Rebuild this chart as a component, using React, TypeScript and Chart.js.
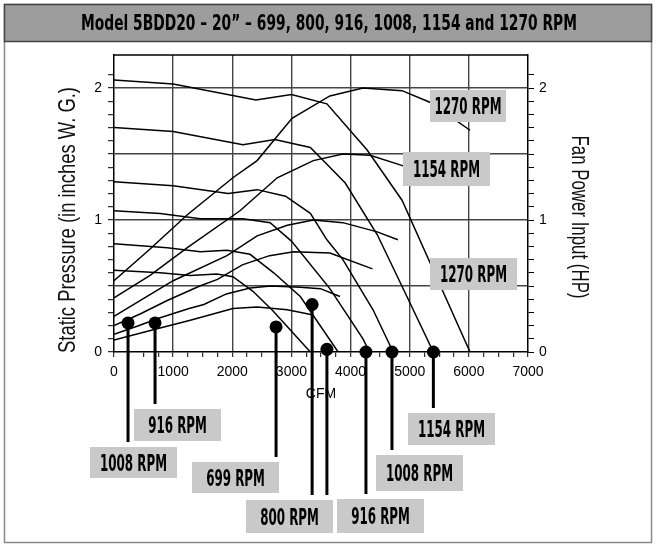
import React, { useEffect, useRef } from "react";
import { Chart, registerables } from "chart.js";

Chart.register(...registerables);

const TITLE = "Model 5BDD20 \u2013 20\u201d \u2013 699, 800, 916, 1008, 1154 and 1270 RPM";
const X_TITLE = "CFM";
const Y_TITLE = "Static Pressure (in inches W. G.)";
const Y2_TITLE = "Fan Power Input (HP)";

// Static pressure curves (CFM, inches W.G.)
const SP_1270_CFM = [0, 1000, 2400, 3000, 3600, 4280, 4870, 5350, 6020];
const SP_1270 = [2.06, 2.03, 1.91, 1.95, 1.88, 1.53, 1.15, 0.67, 0];
const SP_1154_CFM = [0, 1000, 2180, 2720, 3320, 3650, 3910, 4450, 4900, 5400];
const SP_1154 = [1.7, 1.67, 1.57, 1.61, 1.55, 1.4, 1.28, 0.89, 0.47, 0];
const SP_1008_CFM = [0, 1000, 1930, 2420, 2900, 3320, 3600, 3870, 4380, 4720];
const SP_1008 = [1.29, 1.26, 1.2, 1.23, 1.18, 1.05, 0.85, 0.7, 0.32, 0];
const SP_916_CFM = [0, 780, 1460, 2180, 2640, 3000, 3650, 4210, 4320];
const SP_916 = [1.07, 1.05, 1.01, 1.01, 0.98, 0.84, 0.48, 0.1, 0];
const SP_800_CFM = [0, 900, 1460, 1910, 2300, 2700, 3150, 3790];
const SP_800 = [0.82, 0.79, 0.76, 0.77, 0.74, 0.6, 0.42, 0];
const SP_699_CFM = [0, 780, 1290, 1740, 2010, 2350, 2690, 3320];
const SP_699 = [0.62, 0.6, 0.58, 0.59, 0.57, 0.46, 0.31, 0];

// Fan power curves (CFM, HP)
const PW_1270_CFM = [0, 610, 1240, 2010, 2420, 3010, 3650, 4210, 4870, 5350, 6020];
const PW_1270 = [0.54, 0.78, 1.04, 1.32, 1.45, 1.77, 1.94, 2.0, 1.98, 1.89, 1.68];
const PW_1154_CFM = [0, 610, 1240, 2130, 2760, 3370, 3870, 4330, 4890];
const PW_1154 = [0.41, 0.58, 0.79, 1.07, 1.32, 1.45, 1.5, 1.49, 1.41];
const PW_1008_CFM = [0, 1000, 1910, 2420, 2930, 3370, 3870, 4450, 4800];
const PW_1008 = [0.27, 0.54, 0.73, 0.88, 0.96, 1.0, 0.98, 0.91, 0.85];
const PW_916_CFM = [0, 450, 900, 1450, 1750, 2170, 2630, 3040, 3650, 4370];
const PW_916 = [0.2, 0.29, 0.39, 0.5, 0.55, 0.66, 0.73, 0.76, 0.75, 0.63];
const PW_800_CFM = [0, 390, 780, 1270, 1520, 1900, 2300, 2650, 3150, 3490, 3820];
const PW_800 = [0.135, 0.195, 0.26, 0.33, 0.36, 0.44, 0.485, 0.5, 0.49, 0.48, 0.42];
const PW_699_CFM = [0, 680, 1290, 2010, 2420, 2930, 3370];
const PW_699 = [0.09, 0.17, 0.24, 0.33, 0.34, 0.32, 0.28];

// Callout markers
const DOT_CFM = [237, 694, 2740, 3350, 3600, 4260, 4700, 5400];
const DOT_VAL = [0.22, 0.22, 0.19, 0.36, 0.02, 0, 0, 0];

const CALLOUT_TEXT = ["1008 RPM", "916 RPM", "699 RPM", "800 RPM", "916 RPM", "1008 RPM", "1154 RPM"];
const CALLOUT_DOTS = [[0], [1], [2], [3, 4], [5], [6], [7]];
const INPLOT_TEXT = ["1270 RPM", "1154 RPM", "1270 RPM"];

// layout of label boxes (px: left, top, width, height)
const CALLOUT_BOX = [
  [90, 447, 87, 31],
  [134, 409, 87, 32],
  [192, 462, 87, 31],
  [246, 500, 87, 33],
  [337, 499, 87, 34],
  [376, 455, 87, 36],
  [408, 413, 87, 32],
];
const INPLOT_BOX = [
  [430, 90, 76, 32],
  [403, 152, 87, 34],
  [430, 258, 87, 32],
];

const W = 656;
const H = 545;

function xy(xs: number[], ys: number[]) {
  return xs.map((x, i) => ({ x, y: ys[i] }));
}

function drawScaled(
  ctx: CanvasRenderingContext2D,
  text: string,
  cx: number,
  cy: number,
  font: string,
  sx: number,
  rot: number,
  color: string,
  baselineOffset: number
) {
  ctx.save();
  ctx.translate(cx, cy);
  ctx.rotate(rot);
  ctx.scale(sx, 1);
  ctx.font = font;
  ctx.fillStyle = color;
  ctx.textAlign = "center";
  ctx.textBaseline = "alphabetic";
  ctx.fillText(text, 0, baselineOffset);
  ctx.restore();
}

function fitScale(ctx: CanvasRenderingContext2D, text: string, font: string, target: number) {
  ctx.save();
  ctx.font = font;
  const w = ctx.measureText(text).width;
  ctx.restore();
  return w > 0 ? target / w : 1;
}

const LABEL_FONT = 'bold 23px "DejaVu Sans", sans-serif';
const TITLE_FONT = 'bold 22px "DejaVu Sans", sans-serif';
const AXIS_FONT = '24px "Liberation Sans", Arial, sans-serif';

const decorPlugin = {
  id: "decor",
  beforeDraw(chart: any) {
    const ctx: CanvasRenderingContext2D = chart.ctx;
    ctx.save();
    ctx.fillStyle = "#fff";
    ctx.fillRect(0, 0, chart.width, chart.height);
    // outer frame
    ctx.strokeStyle = "#888";
    ctx.lineWidth = 1.5;
    ctx.strokeRect(4.5, 4.5, 647, 538);
    // title bar
    ctx.fillStyle = "#9d9d9d";
    ctx.fillRect(4.5, 4.5, 647, 37);
    ctx.strokeStyle = "#444";
    ctx.strokeRect(4.5, 4.5, 647, 37);
    const ts = fitScale(ctx, TITLE, TITLE_FONT, 496);
    drawScaled(ctx, TITLE, 329, 22, TITLE_FONT, ts, 0, "#000", 8);
    ctx.restore();
  },
  afterDatasetsDraw(chart: any) {
    const ctx: CanvasRenderingContext2D = chart.ctx;
    const xs = chart.scales.x;
    const ys = chart.scales.y;
    const area = chart.chartArea;
    ctx.save();
    // top frame line
    ctx.strokeStyle = "#000";
    ctx.lineWidth = 1.5;
    ctx.beginPath();
    ctx.moveTo(area.left, area.top);
    ctx.lineTo(area.right, area.top);
    ctx.stroke();

    // axis titles
    const ls = fitScale(ctx, Y_TITLE, AXIS_FONT, 266);
    drawScaled(ctx, Y_TITLE, 67, 220, AXIS_FONT, ls, -Math.PI / 2, "#111", 8);
    const rs = fitScale(ctx, Y2_TITLE, AXIS_FONT, 163);
    drawScaled(ctx, Y2_TITLE, 580, 217, AXIS_FONT, rs, Math.PI / 2, "#111", 8);
    ctx.font = '14px "Liberation Sans", Arial, sans-serif';
    ctx.fillStyle = "#000";
    ctx.textAlign = "center";
    ctx.textBaseline = "middle";
    ctx.fillText(X_TITLE, 321, 394);

    const lscale = fitScale(ctx, "1008 RPM", LABEL_FONT, 67);
    const drawBox = (b: number[], text: string) => {
      ctx.fillStyle = "#c9c9c9";
      ctx.fillRect(b[0], b[1], b[2], b[3]);
      drawScaled(ctx, text, b[0] + b[2] / 2, b[1] + b[3] / 2, LABEL_FONT, lscale, 0, "#000", 8.3);
    };

    // callout lines and boxes
    CALLOUT_TEXT.forEach((text, i) => {
      const box = CALLOUT_BOX[i];
      CALLOUT_DOTS[i].forEach((d) => {
        const px = xs.getPixelForValue(DOT_CFM[d]);
        const py = ys.getPixelForValue(DOT_VAL[d]);
        ctx.strokeStyle = "#000";
        ctx.lineWidth = 3;
        ctx.beginPath();
        ctx.moveTo(px, py);
        ctx.lineTo(px, box[1] - 5);
        ctx.stroke();
      });
      drawBox(box, text);
    });
    INPLOT_TEXT.forEach((text, i) => drawBox(INPLOT_BOX[i], text));
    ctx.restore();
  },
};

function isMult(v: number, step: number) {
  const k = v / step;
  return Math.abs(k - Math.round(k)) < 1e-6;
}

export default function App() {
  const ref = useRef<HTMLCanvasElement>(null);

  useEffect(() => {
    const canvas = ref.current;
    if (!canvas) return;

    const curve = (xs: number[], ys: number[], axis: string) => ({
      data: xy(xs, ys),
      showLine: true,
      borderColor: "#000",
      borderWidth: 1.5,
      pointRadius: 0,
      tension: 0,
      yAxisID: axis,
    });

    const tickFont = { family: '"Liberation Sans", Arial, sans-serif', size: 14 };

    const yTicks = {
      stepSize: 0.1,
      autoSkip: false,
      color: "#000",
      font: tickFont,
      callback: (v: any) => (isMult(Number(v), 1) ? String(Math.round(Number(v))) : ""),
    };
    const filterTicks = (s: any) => {
      s.ticks = s.ticks.filter((t: any) => isMult(t.value, 0.1));
    };

    const chart = new Chart(canvas, {
      type: "scatter",
      data: {
        datasets: [
          {
            data: xy(DOT_CFM, DOT_VAL),
            showLine: false,
            pointRadius: 6.5,
            pointBackgroundColor: "#000",
            pointBorderWidth: 0,
            clip: false,
            yAxisID: "y",
          } as any,
          curve(SP_1270_CFM, SP_1270, "y"),
          curve(SP_1154_CFM, SP_1154, "y"),
          curve(SP_1008_CFM, SP_1008, "y"),
          curve(SP_916_CFM, SP_916, "y"),
          curve(SP_800_CFM, SP_800, "y"),
          curve(SP_699_CFM, SP_699, "y"),
          curve(PW_1270_CFM, PW_1270, "y2"),
          curve(PW_1154_CFM, PW_1154, "y2"),
          curve(PW_1008_CFM, PW_1008, "y2"),
          curve(PW_916_CFM, PW_916, "y2"),
          curve(PW_800_CFM, PW_800, "y2"),
          curve(PW_699_CFM, PW_699, "y2"),
        ],
      },
      options: {
        responsive: false,
        animation: false,
        devicePixelRatio: 1,
        layout: { padding: { top: 55, left: 0, right: 0, bottom: 0 } },
        plugins: { legend: { display: false }, tooltip: { enabled: false }, title: { display: false } },
        scales: {
          x: {
            type: "linear",
            min: 0,
            max: 7000,
            afterFit: (s: any) => {
              s.height = H - 352;
            },
            ticks: {
              stepSize: 250,
              autoSkip: false,
              maxRotation: 0,
              padding: 7,
              color: "#000",
              font: tickFont,
              callback: (v: any) => (isMult(Number(v), 1000) ? String(v) : ""),
            },
            grid: {
              color: (c: any) => {
                const v = c.tick ? c.tick.value : -1;
                return isMult(v, 1000) && v > 0 && v < 7000 ? "#444" : "rgba(0,0,0,0)";
              },
              tickColor: "#000",
              lineWidth: 1.4,
              tickWidth: 1,
              tickLength: 5,
            },
            border: { display: true, color: "#000", width: 1.5 },
          },
          y: {
            type: "linear",
            position: "left",
            min: 0,
            max: 2.25,
            afterFit: (s: any) => {
              s.width = 114;
            },
            afterBuildTicks: filterTicks,
            ticks: { ...yTicks, padding: 6 },
            grid: {
              color: (c: any) => {
                const v = c.tick ? c.tick.value : -1;
                return isMult(v, 0.5) && v > 0.01 ? "#444" : "rgba(0,0,0,0)";
              },
              tickColor: "#000",
              lineWidth: 1.4,
              tickWidth: 1,
              tickLength: 6,
            },
            border: { display: true, color: "#000", width: 1.5 },
          },
          y2: {
            type: "linear",
            position: "right",
            min: 0,
            max: 2.25,
            afterFit: (s: any) => {
              s.width = W - 528;
            },
            afterBuildTicks: filterTicks,
            ticks: { ...yTicks, padding: 5 },
            grid: {
              drawOnChartArea: false,
              color: "#000",
              tickColor: "#000",
              tickWidth: 1,
              tickLength: 6,
            },
            border: { display: true, color: "#000", width: 1.5 },
          },
        },
      } as any,
      plugins: [decorPlugin],
    });

    return () => chart.destroy();
  }, []);

  return (
    <div style={{ position: "absolute", left: 0, top: 0, width: W, height: H, background: "#fff" }}>
      <canvas ref={ref} width={W} height={H} style={{ display: "block", width: W, height: H }} />
    </div>
  );
}
